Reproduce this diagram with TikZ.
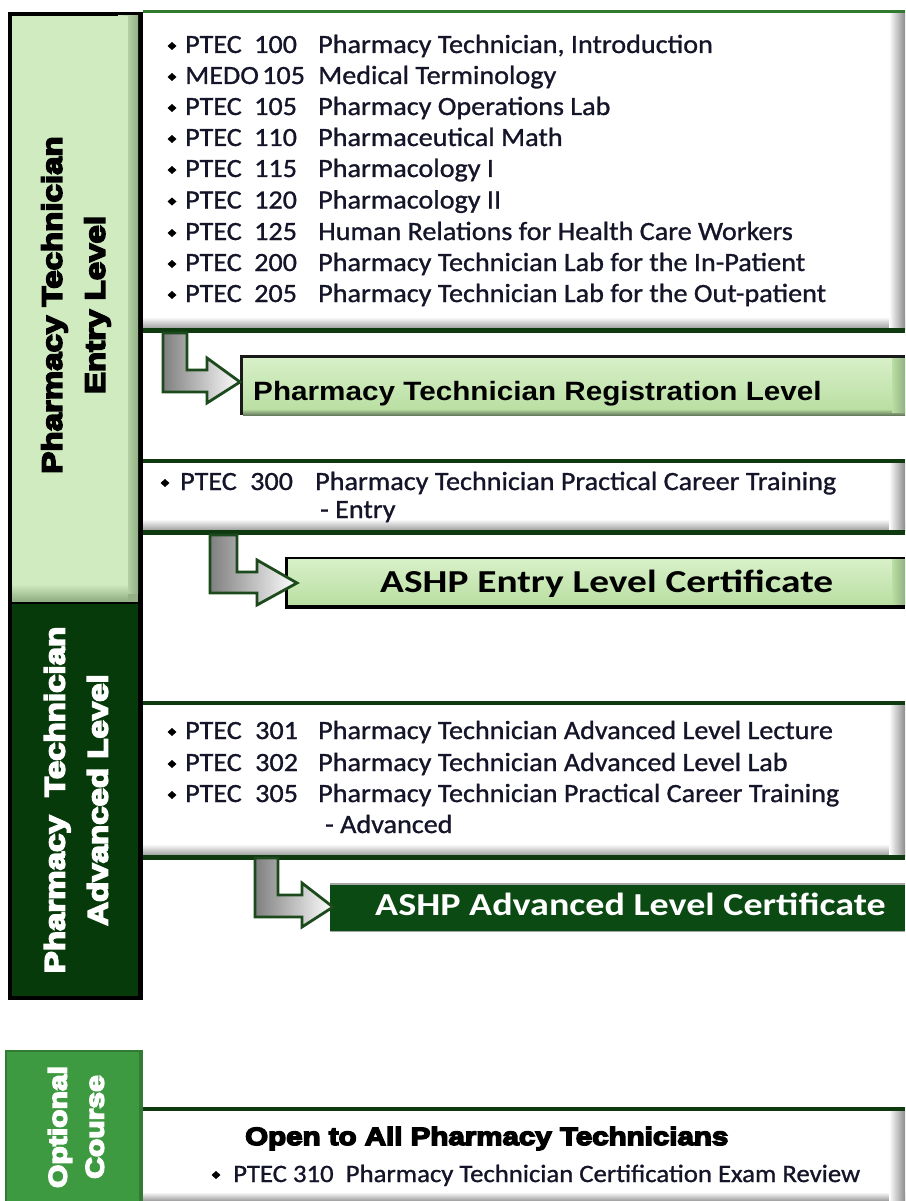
\documentclass[tikz,border=0pt]{standalone}
\usepackage{fontspec}
\setmainfont{Carlito}
\newfontfamily\bodyfont[FakeStretch=1.07,FakeBold=1]{Carlito}
\newfontfamily\certfont[FakeStretch=1.19]{Carlito}
\newfontfamily\certwfont[FakeStretch=1.23]{Carlito}
\newfontfamily\headfont[FakeStretch=1.12]{Liberation Sans}
\newfontfamily\blackfont[FakeStretch=1.18,FakeBold=6]{Liberation Sans Bold}
\definecolor{lgfill}{HTML}{D1EBC1}
\definecolor{lgbevel}{HTML}{93B184}
\definecolor{dkgreen}{HTML}{073A0A}
\definecolor{optgreen}{HTML}{3D9A40}
\definecolor{panelline}{HTML}{0F3A10}
\definecolor{topgreen}{HTML}{2F7A2F}
\definecolor{arrowline}{HTML}{1C4A1C}
\definecolor{regtop}{HTML}{D8F0C8}
\definecolor{regbot}{HTML}{BADFA3}
\definecolor{certdark}{HTML}{0B4A12}
\definecolor{bodyink}{HTML}{15152A}
\newcommand\bul[2]{\fill[black] (#1-4.5,#2-7) -- (#1,#2-11) -- (#1+4.5,#2-7) -- (#1,#2-3) -- cycle;}
\newcommand\crs[9]{%
  \bul{#2}{#6}
  \node[bodytxt] (#1c) at (#3,#6) {#7};
  \node[bodytxt] (#1n) at (#4,#6) {#8};
  \node[bodytxt] (#1t) at (#5,#6) {#9};}
\newcommand\panel[2]{%
  \fill[white] (143,#1) rectangle (905,#2);
  \shade[top color=white,bottom color=black!40] (143,#2-14) rectangle (905,#2-2);
  \shade[left color=white,right color=black!45] (889,#1+3) rectangle (905,#2-2);}
\tikzset{
  bodytxt/.style={font={\bodyfont\fontsize{26.3}{31}\selectfont}, anchor=base west, inner sep=0pt, text=bodyink},
  opttxt/.style={font={\bodyfont\fontsize{25}{29}\selectfont}, anchor=base west, inner sep=0pt, text=bodyink},
  headtxt/.style={font={\headfont\bfseries\fontsize{26.5}{30}\selectfont}, anchor=base west, inner sep=0pt},
  certtxt/.style={font={\certfont\bfseries\fontsize{32}{36}\selectfont}, anchor=base west, inner sep=0pt},
  sidelabel/.style={font={\blackfont\fontsize{28}{43}\selectfont}, align=center, rotate=90, inner sep=0pt},
  bentarrow/.style={draw=arrowline, line width=2.8pt, line join=miter, left color=black!50, right color=white},
}
\begin{document}
\begin{tikzpicture}[x=1pt,y=-1pt]
\useasboundingbox (0,0) rectangle (905,1201);
\fill[white] (0,0) rectangle (905,1201);

% ---------- panels ----------
\panel{10}{331}
\draw[topgreen, line width=3pt] (143,11.5) -- (905,11.5);
\draw[panelline, line width=5pt] (143,330) -- (905,330);

\panel{460}{533}
\draw[panelline, line width=3.5pt] (143,461) -- (905,461);
\draw[panelline, line width=5pt] (143,532) -- (905,532);

\panel{702}{858}
\draw[panelline, line width=3.5pt] (143,703) -- (905,703);
\draw[panelline, line width=5pt] (143,857) -- (905,857);

\fill[white] (143,1108) rectangle (905,1201);
\shade[top color=white,bottom color=black!40] (143,1192) rectangle (905,1201);
\shade[left color=white,right color=black!45] (889,1111) rectangle (905,1201);
\draw[panelline, line width=3.5pt] (143,1109) -- (905,1109);

% ---------- left column ----------
\fill[black] (8,12) rectangle (143,602);
\fill[lgbevel] (12,16) rectangle (138,602);
\shade[left color=lgfill, right color=lgbevel] (118,16) rectangle (138,593);
\fill[lgfill] (12,16) rectangle (128,592);
\shade[top color=lgfill, bottom color=lgbevel] (12,584) rectangle (128,600);
\node[sidelabel, text=black] (entrylbl) at (76,305) {Pharmacy Technician\\Entry Level};

\fill[black] (8,602) rectangle (143,1000);
\fill[dkgreen] (12,604) rectangle (138,996);
\node[sidelabel, text=white] (advlbl) at (76,800) {Pharmacy\ \ Technician\\Advanced Level};

\fill[optgreen!80!black] (5,1050) rectangle (143,1201);
\fill[optgreen] (7,1052) rectangle (139,1201);
\node[sidelabel, text=white, font={\blackfont\fontsize{25.5}{37}\selectfont}] (optlbl) at (76,1127) {Optional\\Course};

% ---------- certificate boxes ----------
\fill[black!90] (240,355) rectangle (905,415);
\shade[top color=regtop, bottom color=regbot] (243,358) rectangle (905,409);
\shade[top color=regbot, bottom color=lgbevel!70!black] (243,409) rectangle (905,415);
\shade[left color=regbot, right color=lgbevel] (892,358) rectangle (905,412);
\node[headtxt] (reg) at (253,400) {Pharmacy Technician Registration Level};

\fill[black] (285,557) rectangle (905,609);
\shade[top color=regtop, bottom color=regbot] (288,559.5) rectangle (905,604);
\shade[left color=regbot, right color=lgbevel] (892,559.5) rectangle (905,604);
\node[certtxt, font={\certwfont\bfseries\fontsize{32}{36}\selectfont}] (entrycert) at (380,592) {ASHP Entry Level Certificate};

\fill[black!35] (330,883) rectangle (905,932);
\fill[certdark] (330,884.5) rectangle (905,930.5);
\node[certtxt, text=white] (advcert) at (375,915) {ASHP Advanced Level Certificate};

% ---------- course lists ----------
\crs{a}{172}{185}{254}{318}{53}{PTEC}{100}{Pharmacy Technician, Introduction}
\crs{b}{172}{185}{262}{318}{84}{MEDO}{105}{Medical Terminology}
\crs{c}{172}{185}{254}{318}{115}{PTEC}{105}{Pharmacy Operations Lab}
\crs{d}{172}{185}{254}{318}{146}{PTEC}{110}{Pharmaceutical Math}
\crs{e}{172}{185}{254}{318}{177}{PTEC}{115}{Pharmacology I}
\crs{f}{172}{185}{254}{318}{208.5}{PTEC}{120}{Pharmacology II}
\crs{g}{172}{185}{254}{318}{240}{PTEC}{125}{Human Relations for Health Care Workers}
\crs{h}{172}{185}{254}{318}{271}{PTEC}{200}{Pharmacy Technician Lab for the In-Patient}
\crs{i}{172}{185}{254}{318}{302}{PTEC}{205}{Pharmacy Technician Lab for the Out-patient}

\crs{j}{165}{180}{250}{315}{490}{PTEC}{300}{Pharmacy Technician Practical Career Training}
\node[bodytxt] (jx) at (320,518) {- Entry};

\crs{k}{172}{185}{255}{318}{739}{PTEC}{301}{Pharmacy Technician Advanced Level Lecture}
\crs{l}{172}{185}{255}{318}{771}{PTEC}{302}{Pharmacy Technician Advanced Level Lab}
\crs{m}{172}{185}{255}{318}{802}{PTEC}{305}{Pharmacy Technician Practical Career Training}
\node[bodytxt] (mx) at (325,833) {- Advanced};

\node[font={\blackfont\fontsize{25}{30}\selectfont}, anchor=base west, inner sep=0pt] (open) at (245,1145) {Open to All Pharmacy Technicians};
\bul{216}{1182}
\node[opttxt] (opt) at (233,1182) {PTEC 310\ \ Pharmacy Technician Certification Exam Review};

% ---------- bent arrows ----------
\path[bentarrow] (163,333) -- (187,333) -- (187,370) -- (207,370) -- (207,358) -- (240,382) -- (207,403) -- (207,392) -- (163,392) -- cycle;
\path[bentarrow] (210,535) -- (237,535) -- (237,572) -- (257,572) -- (257,560) -- (297,583) -- (257,605) -- (257,593) -- (210,593) -- cycle;
\path[bentarrow] (255,858) -- (278,858) -- (278,895) -- (302,895) -- (302,883) -- (333,907) -- (302,927) -- (302,917) -- (255,917) -- cycle;
\end{tikzpicture}
\end{document}
